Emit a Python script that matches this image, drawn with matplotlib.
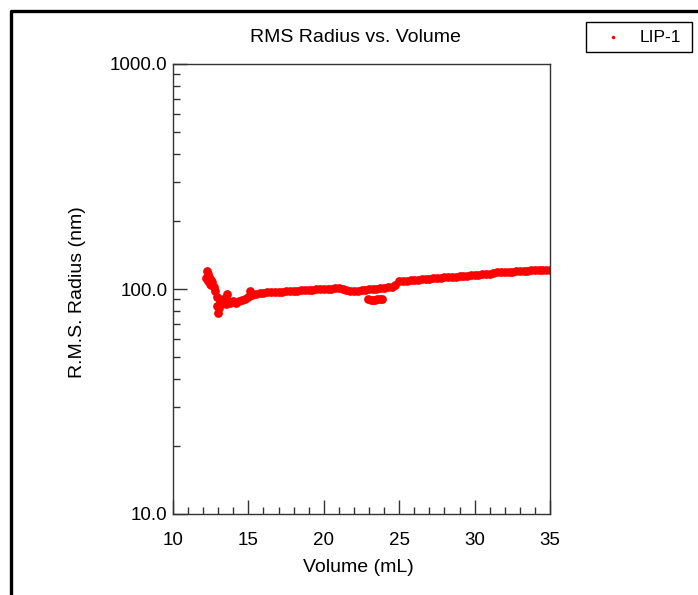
import matplotlib
matplotlib.use("Agg")
import matplotlib.pyplot as plt
from matplotlib.lines import Line2D
from matplotlib.patches import Rectangle
from matplotlib.ticker import FixedLocator, LogLocator, NullFormatter, FixedFormatter

plt.rcParams['font.family'] = ['Liberation Sans', 'DejaVu Sans']

# volume (mL) and RMS radius (nm)
volume = [12.20, 12.25, 12.30, 12.35, 12.40, 12.45, 12.50, 12.55, 12.60, 12.70,
          12.80, 12.90, 12.95, 13.00, 13.05, 13.10, 13.20, 13.30, 13.40, 13.50,
          13.55, 13.60, 13.80, 14.00, 14.20, 14.40, 14.60, 14.80, 15.10,
          15.00, 15.25, 15.50, 15.75, 16.00, 16.25, 16.50, 16.75, 17.00, 17.25,
          17.50, 17.75, 18.00, 18.25, 18.50, 18.75, 19.00, 19.25, 19.50, 19.75,
          20.00, 20.25, 20.50, 20.75, 21.00, 21.25, 21.50, 21.75, 22.00, 22.25,
          22.50, 22.75, 23.00, 23.25, 23.45, 23.75, 24.00, 24.25, 24.50, 24.75,
          25.00, 25.25, 25.50, 25.75, 26.00, 26.25, 26.50, 26.75, 27.00, 27.25,
          27.50, 27.75, 28.00, 28.25, 28.50, 28.75, 29.00, 29.25, 29.50, 29.75,
          30.00, 30.25, 30.50, 30.75, 31.00, 31.25, 31.50, 31.75, 32.00, 32.25,
          32.50, 32.75, 33.00, 33.25, 33.50, 33.75, 34.00, 34.25, 34.50, 34.75,
          35.00]
radius = [112, 120, 116, 108, 113, 105, 110, 104, 107, 102,
          98, 92, 84, 78, 82, 88, 86, 90, 87, 86,
          95, 89, 87, 88, 87, 88, 89, 90, 98,
          92, 94, 95, 96, 96, 96.5, 96.5, 97, 97, 97,
          97.5, 97.5, 98, 98, 98.5, 98.5, 99, 99, 99.5, 99.5,
          100, 100, 100.5, 101, 101, 100, 98.5, 98, 98, 98,
          98.5, 99, 99.5, 100, 100, 101, 101.5, 102, 102, 104,
          108, 108.5, 109, 109.5, 110, 110, 110.5, 111, 111, 111.5,
          112, 112, 112.5, 113, 113, 113.5, 114, 114, 114.5, 115,
          115, 115.5, 116, 116.5, 117, 118, 119, 119.5, 119.5, 119,
          119.5, 120, 120, 120.5, 120.5, 121, 121, 121.5, 121.5, 122,
          122]

# the short low cluster under the main band
dip_volume = [22.95, 23.10, 23.25, 23.40, 23.55, 23.70, 23.85]
dip_radius = [90, 89.5, 89.5, 89.5, 90, 90, 90.5]

series_name = "LIP-1"

fig = plt.figure(figsize=(6.98, 5.95), dpi=100)
ax = fig.add_axes([173/698, 1 - 514/595, 377/698, 450/595])

ax.plot(volume, radius, 'o', ms=6.3, color='red', mec='none')
ax.plot(dip_volume, dip_radius, 'o', ms=6.3, color='red', mec='none')

ax.set_xlim(10, 35)
ax.set_yscale('log')
ax.set_ylim(10, 1000)

ax.xaxis.set_major_locator(FixedLocator([10, 15, 20, 25, 30, 35]))
ax.xaxis.set_minor_locator(FixedLocator(range(10, 36)))
ax.yaxis.set_major_locator(FixedLocator([10, 100, 1000]))
ax.yaxis.set_major_formatter(FixedFormatter(["10.0", "100.0", "1000.0"]))
ax.yaxis.set_minor_locator(LogLocator(base=10, subs=range(2, 10)))
ax.yaxis.set_minor_formatter(NullFormatter())

ax.tick_params(which='both', direction='in', top=False, right=False,
               labelsize=13.5, width=1, color='#333333')
ax.tick_params(which='major', length=10)
ax.tick_params(which='minor', length=5)
ax.tick_params(axis='x', which='both', pad=13)
ax.tick_params(axis='y', which='both', pad=4)
for s in ax.spines.values():
    s.set_color('#333333')
    s.set_linewidth(1)

fig.text(355/698, 1 - 38/595, "RMS Radius vs. Volume", ha='center', va='center', fontsize=14)
fig.text(358/698, 1 - 568/595, "Volume (mL)", ha='center', va='center', fontsize=14)
fig.text(78/698, 1 - 292/595, "R.M.S. Radius (nm)", ha='center', va='center',
         fontsize=14, rotation=90)

# legend box, upper right
fig.add_artist(Rectangle((586/698, 1 - 52/595), 106/698, 30/595, transform=fig.transFigure,
                         fill=False, edgecolor='black', linewidth=1))
fig.add_artist(Line2D([613/698], [1 - 37/595], transform=fig.transFigure, marker='o',
                      ms=2.5, color='red', mec='none', ls=''))
fig.text(660/698, 1 - 37/595, series_name, ha='center', va='center', fontsize=12.5)

# outer frame
fig.add_artist(Line2D([11/698, 11/698, 1], [0, 1 - 11/595, 1 - 11/595],
                      transform=fig.transFigure, color='black', linewidth=2.4))

fig.savefig("out.png", dpi=100)
